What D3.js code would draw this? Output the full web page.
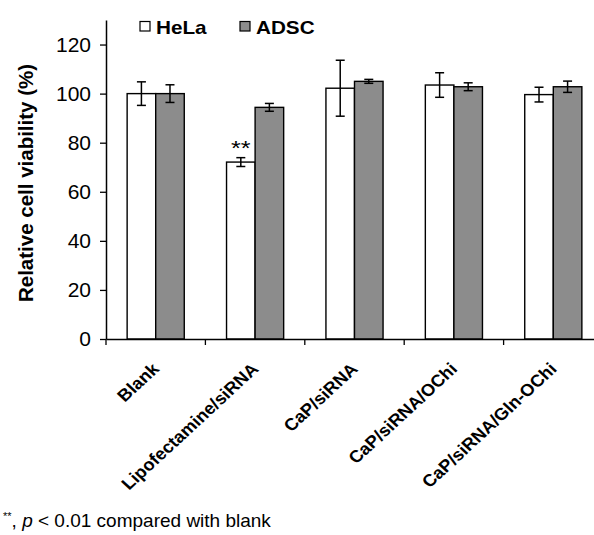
<!DOCTYPE html>
<html>
<head>
<meta charset="utf-8">
<script src="https://cdn.jsdelivr.net/npm/d3@7/dist/d3.min.js"></script>
<style>
  body { margin: 0; background: #fff; }
  svg { display: block; font-family: "Liberation Sans", Arial, sans-serif; }
</style>
</head>
<body>
<svg id="svg" width="594" height="535"></svg>
<script>
    // data
    var categories = ['Blank', 'Lipofectamine/siRNA', 'CaP/siRNA', 'CaP/siRNA/OChi', 'CaP/siRNA/Gln-OChi'];
    var series = ['HeLa', 'ADSC'];
    var helaValues = [100, 72.1, 102.2, 103.5, 99.6];
    var helaErrors = [4.8, 1.8, 11.4, 5.0, 3.0];
    var adscValues = [100, 94.4, 105.0, 102.8, 102.8];
    var adscErrors = [3.6, 1.6, 0.8, 1.6, 2.3];
    var yTicks = [0, 20, 40, 60, 80, 100, 120];
    var colors = {'HeLa': '#ffffff', 'ADSC': '#8c8c8c'};

    var data = [];
    for (var i = 0; i < categories.length; i++) {
        data.push({cat: categories[i], series: 'HeLa', value: helaValues[i], err: helaErrors[i]});
        data.push({cat: categories[i], series: 'ADSC', value: adscValues[i], err: adscErrors[i]});
    }

    var svg = d3.select("#svg");

    var y = d3.scaleLinear().domain([0, 130]).range([339, 20]);
    var x0 = d3.scaleBand().domain(categories).range([106, 603]).padding(0);
    var x1 = d3.scaleBand().domain(series).range([0, x0.bandwidth()]).paddingInner(0).paddingOuter(0.74);

    // bars
    svg.append("g").selectAll("rect")
        .data(data)
        .enter().append("rect")
        .attr("x", function (d) { return x0(d.cat) + x1(d.series); })
        .attr("y", function (d) { return y(d.value); })
        .attr("width", x1.bandwidth())
        .attr("height", function (d) { return y(0) - y(d.value); })
        .attr("fill", function (d) { return colors[d.series]; })
        .attr("stroke", "#000")
        .attr("stroke-width", 1.4);

    // error bars
    var eb = svg.append("g").attr("stroke", "#000").attr("stroke-width", 1.5);
    data.forEach(function (d) {
        var cx = x0(d.cat) + x1(d.series) + x1.bandwidth() / 2;
        var top = y(d.value + d.err), bot = y(d.value - d.err);
        eb.append("line").attr("x1", cx).attr("x2", cx).attr("y1", top).attr("y2", bot);
        eb.append("line").attr("x1", cx - 4.5).attr("x2", cx + 4.5).attr("y1", top).attr("y2", top);
        eb.append("line").attr("x1", cx - 4.5).attr("x2", cx + 4.5).attr("y1", bot).attr("y2", bot);
    });

    // significance mark
    var sig = data[2];
    svg.append("text")
        .attr("transform", "translate(" + (x0(sig.cat) + x1(sig.series) + x1.bandwidth() / 2) + "," +
            (y(sig.value + sig.err) - 3) + ") scale(1.2,1)")
        .attr("text-anchor", "middle")
        .style("font-size", "21px")
        .text("**");

    // y axis
    var yAxis = svg.append("g")
        .attr("transform", "translate(106,0)")
        .call(d3.axisLeft(y).tickValues(yTicks).tickSize(6).tickSizeOuter(0).tickPadding(9));
    yAxis.select(".domain").attr("stroke", "#000").attr("stroke-width", 1.5);
    yAxis.selectAll(".tick line").attr("stroke-width", 1.3);
    yAxis.selectAll("text").style("font-size", "21px").attr("fill", "#000").attr("font-family", null);

    // x axis
    var xAxis = svg.append("g")
        .attr("transform", "translate(0,339)")
        .call(d3.axisBottom(x0).tickSize(0).tickSizeOuter(0).tickPadding(0));
    xAxis.select(".domain").attr("stroke", "#000").attr("stroke-width", 1.5);
    xAxis.selectAll(".tick text")
        .attr("font-family", null)
        .style("font-size", "17px")
        .style("font-weight", "bold")
        .attr("fill", "#000")
        .attr("text-anchor", "end")
        .attr("y", 0)
        .attr("dy", 0)
        .attr("transform", "translate(4.5,31) scale(1.08,1) rotate(-45)");
    // category boundary ticks
    xAxis.selectAll(".bound")
        .data(categories)
        .enter().append("line")
        .attr("x1", function (d) { return x0(d); })
        .attr("x2", function (d) { return x0(d); })
        .attr("y1", 0).attr("y2", 6)
        .attr("stroke", "#000").attr("stroke-width", 1.3);

    // y axis title
    svg.append("text")
        .attr("transform", "translate(33,183) rotate(-90)")
        .attr("text-anchor", "middle")
        .style("font-size", "20.5px")
        .style("font-weight", "bold")
        .text("Relative cell viability (%)");

    // legend
    var legendX = [140, 240];
    series.forEach(function (s, i) {
        svg.append("rect")
            .attr("x", legendX[i]).attr("y", 21.5)
            .attr("width", 10).attr("height", 9.5)
            .attr("fill", colors[s]).attr("stroke", "#000").attr("stroke-width", 1.2);
        svg.append("text")
            .attr("transform", "translate(" + (legendX[i] + 16) + ",33.5) scale(1.15,1)")
            .style("font-size", "18px").style("font-weight", "bold")
            .text(s);
    });

    // footnote
    var foot = svg.append("text").attr("x", 3).attr("y", 527).style("font-size", "19px");
    foot.append("tspan").attr("dy", -7).style("font-size", "11px").text("**");
    foot.append("tspan").attr("dy", 7).text(", ");
    foot.append("tspan").style("font-style", "italic").text("p");
    foot.append("tspan").text(" < 0.01 compared with blank");
</script>
</body>
</html>
